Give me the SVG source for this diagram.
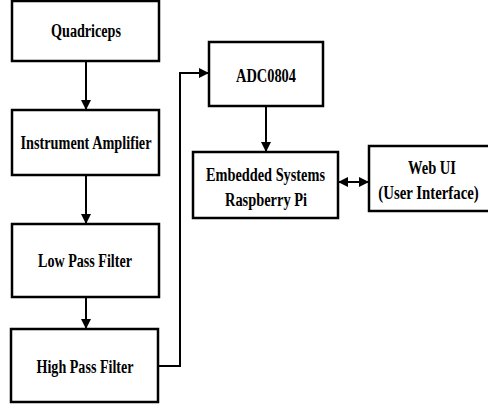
<svg xmlns="http://www.w3.org/2000/svg" width="488" height="408" viewBox="0 0 488 408">
<defs>
<marker id="ah" viewBox="0 0 10 10" refX="10" refY="5" markerWidth="10" markerHeight="10" markerUnits="userSpaceOnUse" orient="auto-start-reverse">
<path d="M0,0 L10,5 L0,10 Z" fill="#000"/>
</marker>
</defs>
<style>
.box{fill:#fff;stroke:#000;stroke-width:2.5}
.lbl{font-family:"Liberation Serif","Times New Roman",serif;font-weight:bold;font-size:18.5px;fill:#000;text-anchor:middle;dominant-baseline:central}
.con{fill:none;stroke:#000;stroke-width:2}
</style>
<rect width="488" height="408" fill="#fff"/>
<g id="connectors">
<line class="con" x1="86" y1="61" x2="86" y2="110" marker-end="url(#ah)"/>
<line class="con" x1="86" y1="175" x2="86" y2="224" marker-end="url(#ah)"/>
<line class="con" x1="86" y1="297" x2="86" y2="329" marker-end="url(#ah)"/>
<polyline class="con" points="158,366 180,366 180,73 209,73" marker-end="url(#ah)"/>
<line class="con" x1="266" y1="106" x2="266" y2="152" marker-end="url(#ah)"/>
<line class="con" x1="338" y1="182" x2="369" y2="182" marker-start="url(#ah)" marker-end="url(#ah)"/>
</g>
<g id="quadriceps">
<rect class="box" x="12" y="1" width="147" height="60"/>
<text class="lbl" x="86" y="31" textLength="70" lengthAdjust="spacingAndGlyphs">Quadriceps</text>
</g>
<g id="instrument-amplifier">
<rect class="box" x="12" y="110" width="147" height="65"/>
<text class="lbl" x="86" y="143" textLength="131" lengthAdjust="spacingAndGlyphs">Instrument Amplifier</text>
</g>
<g id="low-pass-filter">
<rect class="box" x="12" y="224" width="147" height="73"/>
<text class="lbl" x="85" y="261" textLength="94" lengthAdjust="spacingAndGlyphs">Low Pass Filter</text>
</g>
<g id="high-pass-filter">
<rect class="box" x="11" y="329" width="147" height="73"/>
<text class="lbl" x="85" y="367" textLength="97" lengthAdjust="spacingAndGlyphs">High Pass Filter</text>
</g>
<g id="adc0804">
<rect class="box" x="209" y="42" width="114" height="64"/>
<text class="lbl" x="266" y="76" textLength="60" lengthAdjust="spacingAndGlyphs">ADC0804</text>
</g>
<g id="embedded-systems">
<rect class="box" x="193" y="152" width="145" height="66"/>
<text class="lbl" x="265.5" y="175" textLength="119" lengthAdjust="spacingAndGlyphs">Embedded Systems</text>
<text class="lbl" x="266" y="200" textLength="82" lengthAdjust="spacingAndGlyphs">Raspberry Pi</text>
</g>
<g id="web-ui">
<rect class="box" x="369" y="146" width="122" height="65"/>
<text class="lbl" x="432" y="168" textLength="48" lengthAdjust="spacingAndGlyphs">Web UI</text>
<text class="lbl" transform="translate(428.5,193) scale(0.8,1)" x="0" y="0">(User Interface)</text>
</g>
</svg>
